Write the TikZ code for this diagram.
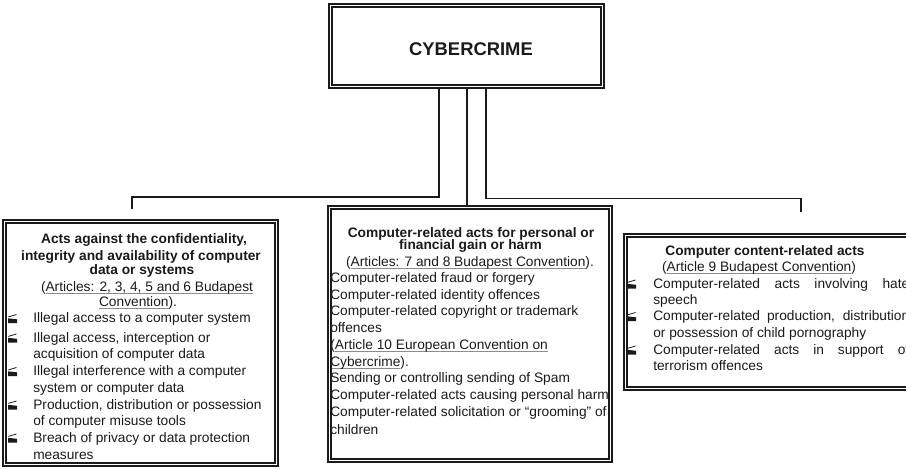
\documentclass[tikz,border=0pt]{standalone}
\usepackage{fontspec}
\setmainfont{Liberation Sans}
\usetikzlibrary{fit}
\definecolor{ink}{HTML}{1A1A1A}
\definecolor{rulegray}{HTML}{8C8C8C}
% thin grey underline for the convention references
\newcommand\ulg[1]{\setbox0\hbox{#1}\rlap{\color{rulegray}\rule[-2.2pt]{\wd0}{0.6pt}}\box0}
\begin{document}
\begin{tikzpicture}[x=0.75pt,y=-0.75pt,
  box/.style={draw=ink,double=white,line width=1.2pt,double distance=1.2pt,inner sep=0pt,rectangle},
  conn/.style={draw=ink,line width=1.1pt},
  txt/.style={inner sep=0pt,anchor=base west,text=ink,font=\fontsize{10.3}{12.5}\selectfont},
  ctr/.style={txt,anchor=base},
  hd/.style={ctr,font=\fontsize{10.3}{12.5}\selectfont\bfseries},
  bulletmark/.pic={
    \fill[ink] (0,0.5) -- (9,0.5) -- (9,-3.2) -- (0,-4.2) -- cycle;
    \draw[ink,line width=0.6pt] (8.5,-8) -- (0.3,-5.6);
  }
]
\useasboundingbox (0,0) rectangle (906,468);
\clip (0,0) rectangle (906,468);

% title
\node[inner sep=0pt,text=ink,font=\fontsize{13.8}{16}\selectfont\bfseries] (title) at (471,49) {CYBERCRIME};

% left block: confidentiality, integrity and availability
\node[hd] (h1) at (144,243.5) {Acts against the confidentiality,};
\node[hd] (h2) at (141,260) {integrity and availability of computer};
\node[hd] (h3) at (142,274.5) {data or systems};
\node[ctr] (h4) at (147,291) {(\ulg{Articles: 2, 3, 4, 5 and 6 Budapest}};
\node[ctr] (h5) at (138,306) {\ulg{Convention}).};
\foreach \yy in {322.5,342,375.5,409,442} \pic at (8,\yy) {bulletmark};
\node[txt] (a1) at (33,322.5) {Illegal access to a computer system};
\node[txt] (a2) at (33,342) {Illegal access, interception or};
\node[txt] (a3) at (33,358) {acquisition of computer data};
\node[txt] (a4) at (33,375.5) {Illegal interference with a computer};
\node[txt] (a5) at (33,392) {system or computer data};
\node[txt] (a6) at (33,409) {Production, distribution or possession};
\node[txt] (a7) at (33,425) {of computer misuse tools};
\node[txt] (a8) at (33,442) {Breach of privacy or data protection};
\node[txt] (a9) at (33,459) {measures};

% middle block: personal or financial gain or harm
\node[hd] (m1) at (471,237) {Computer-related acts for personal or};
\node[hd] (m2) at (470.5,249.5) {financial gain or harm};
\node[ctr] (m3) at (470,266) {(\ulg{Articles: 7 and 8 Budapest Convention}).};
\node[txt] (b1) at (330,282) {Computer-related fraud or forgery};
\node[txt] (b2) at (330,299) {Computer-related identity offences};
\node[txt] (b3) at (330,315) {Computer-related copyright or trademark};
\node[txt] (b4) at (330,332) {offences};
\node[txt] (b5) at (330,349) {(\ulg{Article 10 European Convention on}};
\node[txt] (b6) at (330,366) {\ulg{Cybercrime}).};
\node[txt] (b7) at (330,382) {Sending or controlling sending of Spam};
\node[txt] (b8) at (330,399) {Computer-related acts causing personal harm};
\node[txt] (b9) at (330,416) {Computer-related solicitation or “grooming” of};
\node[txt] (b10) at (330,434) {children};

% right block: content-related acts
\node[hd] (r0) at (765,255) {Computer content-related acts};
\node[ctr] (r1) at (759,271) {(\ulg{Article 9 Budapest Convention})};
\foreach \yy in {288,320.5,354} \pic at (627,\yy) {bulletmark};
\node[txt] (c1) at (653,288) {\makebox[192pt][s]{Computer-related acts involving hate}};
\node[txt] (c2) at (653,304) {speech};
\node[txt] (c3) at (653,320.5) {\makebox[192pt][s]{Computer-related production, distribution}};
\node[txt] (c4) at (653,337) {or possession of child pornography};
\node[txt] (c5) at (653,354) {\makebox[192pt][s]{Computer-related acts in support of}};
\node[txt] (c6) at (653,370.5) {terrorism offences};

% double-ruled frames
\node[box,fit={(330.4,5.4)(602.6,86.6)}] (top) {};
\node[box,fit={(4.4,221.4)(276.6,464.6)}] (left) {};
\node[box,fit={(329.4,207.4)(610.6,460.6)}] (mid) {};
\node[box,fit={(625.4,235.4)(930,388.6)}] (right) {};

% connectors
\coordinate (xl) at (439,0);
\coordinate (xm) at (467,0);
\coordinate (xr) at (486,0);
\coordinate (lend) at (132,208.5);
\coordinate (rend) at (801,212);
\draw[conn] (top.south -| xl) |- ([yshift=8.6pt]lend) -- (lend);
\draw[conn] (top.south -| xm) -- (mid.north -| xm);
\draw[conn] (top.south -| xr) |- ([yshift=10.1pt]rend) -- (rend);
\end{tikzpicture}
\end{document}
